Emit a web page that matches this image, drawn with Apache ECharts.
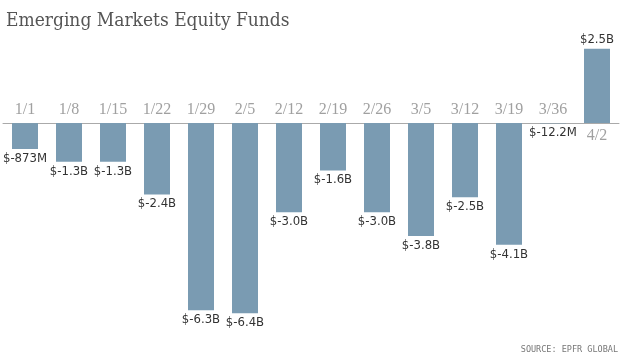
<!DOCTYPE html>
<html><head><meta charset="utf-8">
<script src="https://cdn.jsdelivr.net/npm/echarts@6/dist/echarts.min.js"></script>
<style>html,body{margin:0;padding:0;background:#fff}#c{width:620px;height:355px}</style>
</head><body><div id="c"></div>
<script>
const categories = ['1/1','1/8','1/15','1/22','1/29','2/5','2/12','2/19','2/26','3/5','3/12','3/19','3/36','4/2'];
const flowsBillions = [-0.873,-1.3,-1.3,-2.4,-6.3,-6.4,-3.0,-1.6,-3.0,-3.8,-2.5,-4.1,-0.0122,2.5];
const valueLabels = ['$-873M','$-1.3B','$-1.3B','$-2.4B','$-6.3B','$-6.4B','$-3.0B','$-1.6B','$-3.0B','$-3.8B','$-2.5B','$-4.1B','$-12.2M','$2.5B'];
const titleText = 'Emerging Markets Equity Funds';
const sourceText = 'SOURCE: EPFR GLOBAL';

const chart = echarts.init(document.getElementById('c'));
chart.setOption({
  animation: false,
  backgroundColor: '#fff',
  title: {text: titleText, left: 1, top: 7,
    textStyle: {fontFamily: 'DejaVu Serif Condensed, DejaVu Serif', fontSize: 19, fontWeight: 'normal', color: '#555'}},
  graphic: [{type: 'text', right: 2, bottom: 1,
    style: {text: sourceText, font: '8.5px "DejaVu Sans Mono"', fill: '#777'}}],
  grid: {left: 3, right: 1, top: 34, bottom: 24},
  xAxis: {type: 'category', data: categories,
    axisLine: {onZero: true, lineStyle: {color: '#aaa', width: 1}},
    axisTick: {show: false}, axisLabel: {show: false}},
  yAxis: {type: 'value', min: -7, max: 3, show: false, splitLine: {show: false}},
  series: [
    {type: 'bar', barWidth: 26, itemStyle: {color: '#7a9bb2'},
     data: flowsBillions.map((v, i) => ({value: v,
       label: {show: true, position: v < 0 ? 'bottom' : 'top', distance: 3,
         formatter: valueLabels[i],
         fontFamily: 'Liberation Sans Narrow, DejaVu Sans Condensed, sans-serif',
         fontSize: 13, color: '#333'}}))},
    {type: 'scatter', symbolSize: 0, silent: true,
     data: flowsBillions.map((v, i) => ({value: 0,
       label: {show: true, position: v < 0 ? 'top' : 'bottom', distance: 5,
         formatter: categories[i],
         fontFamily: 'Liberation Serif', fontSize: 16, color: '#888'}}))}
  ]
});
</script></body></html>
